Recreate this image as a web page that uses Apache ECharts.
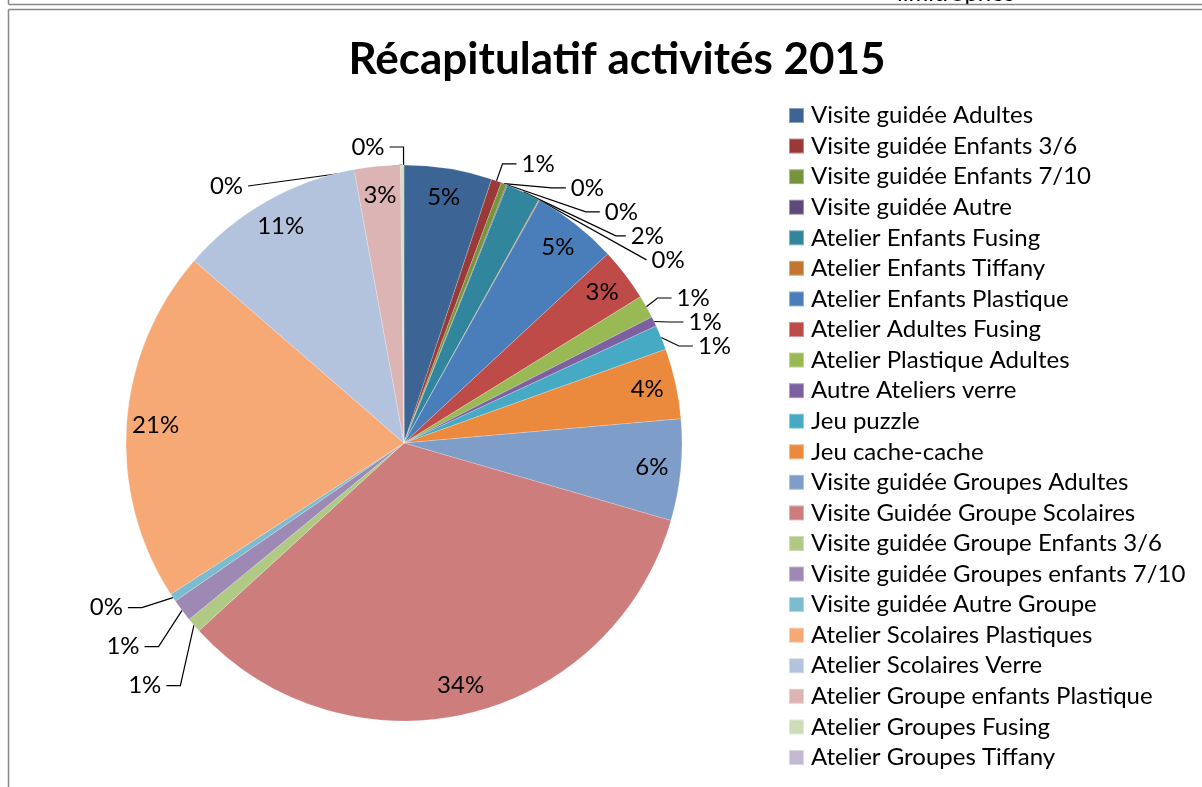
<!DOCTYPE html>
<html>
<head>
<meta charset="utf-8">
<script src="https://cdn.jsdelivr.net/npm/echarts@6/dist/echarts.min.js"></script>
<style>
html, body { margin: 0; padding: 0; background: #fff; }
#chart { width: 1202px; height: 787px; }
</style>
</head>
<body>
<div id="chart"></div>
<script>
// activités, dans l'ordre du graphique (sens horaire depuis midi)
const activites = [
    'Visite guidée Adultes',
    'Visite guidée Enfants 3/6',
    'Visite guidée Enfants 7/10',
    'Visite guidée Autre',
    'Atelier Enfants Fusing',
    'Atelier Enfants Tiffany',
    'Atelier Enfants Plastique',
    'Atelier Adultes Fusing',
    'Atelier Plastique Adultes',
    'Autre Ateliers verre',
    'Jeu puzzle',
    'Jeu cache-cache',
    'Visite guidée Groupes Adultes',
    'Visite Guidée Groupe Scolaires',
    'Visite guidée Groupe Enfants 3/6',
    'Visite guidée Groupes enfants 7/10',
    'Visite guidée Autre Groupe',
    'Atelier Scolaires Plastiques',
    'Atelier Scolaires Verre',
    'Atelier Groupe enfants Plastique',
    'Atelier Groupes Fusing',
    'Atelier Groupes Tiffany'
];

// parts estimées (en %)
const valeurs = [
    5.12, 0.59, 0.32, 0.05, 2.0, 0.05, 5.0, 3.1, 1.34, 0.56, 1.45,
    4.1, 5.9, 33.8, 0.86, 1.32, 0.47, 20.6, 10.77, 2.68, 0.15, 0.05
];

const couleurs = [
    '#3C6595', '#9A3A38', '#77933C', '#5F497A', '#31859C', '#C37532',
    '#4A7EBB', '#BE4B48', '#98B954', '#7D60A0', '#46AAC5', '#EB8A3D',
    '#7F9DC9', '#CD7E7C', '#B0C984', '#9E89B5', '#7BBCD0', '#F7A975',
    '#B4C3DD', '#DDB4B4', '#CEDDB8', '#C3B9D2'
];

const police = 'Lato, "Open Sans", sans-serif';
const total = valeurs.reduce((a, b) => a + b, 0);
const centre = [404, 443];
const rayon = 278;
const bord = { stroke: '#878787', lineWidth: 1.5 };

// étiquettes: dans la part si >= 2.5 %, sinon dehors; côté gauche plus espacé
let cumul = 0;
const etiquettes = activites.map((n, i) => {
    const part = valeurs[i] / total * 100;
    const milieu = (cumul + valeurs[i] / 2) / total;
    cumul += valeurs[i];
    const dedans = part >= 2.5;
    return {
        name: n,
        value: valeurs[i],
        label: { position: dedans ? 'inside' : 'outside', minMargin: milieu > 0.5 ? 15 : 0 },
        labelLine: { show: !dedans }
    };
});

const chart = echarts.init(document.getElementById('chart'));

const option = {
    backgroundColor: '#fff',
    animation: false,
    color: couleurs,
    title: {
        text: 'Récapitulatif activités 2015',
        left: 612,
        top: 33,
        textAlign: 'center',
        textStyle: { fontFamily: police, fontWeight: 'bold', fontSize: 44, color: '#000' }
    },
    legend: {
        orient: 'vertical',
        left: 788,
        top: 103.5,
        padding: 0,
        itemWidth: 15,
        itemHeight: 15,
        itemGap: 6.57,
        icon: 'rect',
        selectedMode: false,
        textStyle: { fontFamily: police, fontSize: 24, color: '#000', lineHeight: 24, padding: [0, 0, 0, 2] },
        data: activites
    },
    graphic: [
        {
            type: 'text', left: 897, top: -19, z: 1,
            style: { text: 'limitrophes', fontFamily: police, fontSize: 24, fill: '#000' }
        },
        { type: 'rect', z: 2, shape: { x: 860, y: 5, width: 200, height: 4 }, style: { fill: '#fff' } },
        { type: 'line', z: 3, shape: { x1: 8.5, y1: 0, x2: 8.5, y2: 4.5 }, style: bord },
        { type: 'line', z: 3, shape: { x1: 8.5, y1: 4.5, x2: 1202, y2: 4.5 }, style: bord },
        { type: 'line', z: 3, shape: { x1: 8.5, y1: 9.5, x2: 1202, y2: 9.5 }, style: bord },
        { type: 'line', z: 3, shape: { x1: 8.5, y1: 9.5, x2: 8.5, y2: 787 }, style: bord }
    ],
    series: [
        {
            type: 'pie',
            name: 'activites',
            center: centre,
            radius: [0, rayon],
            startAngle: 90,
            clockwise: true,
            avoidLabelOverlap: false,
            label: { show: false },
            labelLine: { show: false },
            itemStyle: { borderColor: 'rgba(255,255,255,0.4)', borderWidth: 0.5 },
            emphasis: { disabled: true },
            data: activites.map((n, i) => ({ name: n, value: valeurs[i] }))
        },
        {
            // anneau transparent qui porte les étiquettes (comme Excel, ~0.88 R)
            type: 'pie',
            name: 'etiquettes',
            center: centre,
            radius: [rayon * 0.77, rayon],
            startAngle: 90,
            clockwise: true,
            silent: true,
            legendHoverLink: false,
            avoidLabelOverlap: true,
            itemStyle: { color: 'transparent' },
            emphasis: { disabled: true },
            label: {
                fontFamily: police,
                fontSize: 24,
                color: '#000',
                formatter: p => Math.round(p.percent) + '%'
            },
            labelLine: { length: 18, length2: 14, lineStyle: { color: '#000', width: 1.2 } },
            data: etiquettes
        }
    ]
};

chart.setOption(option);
</script>
</body>
</html>
